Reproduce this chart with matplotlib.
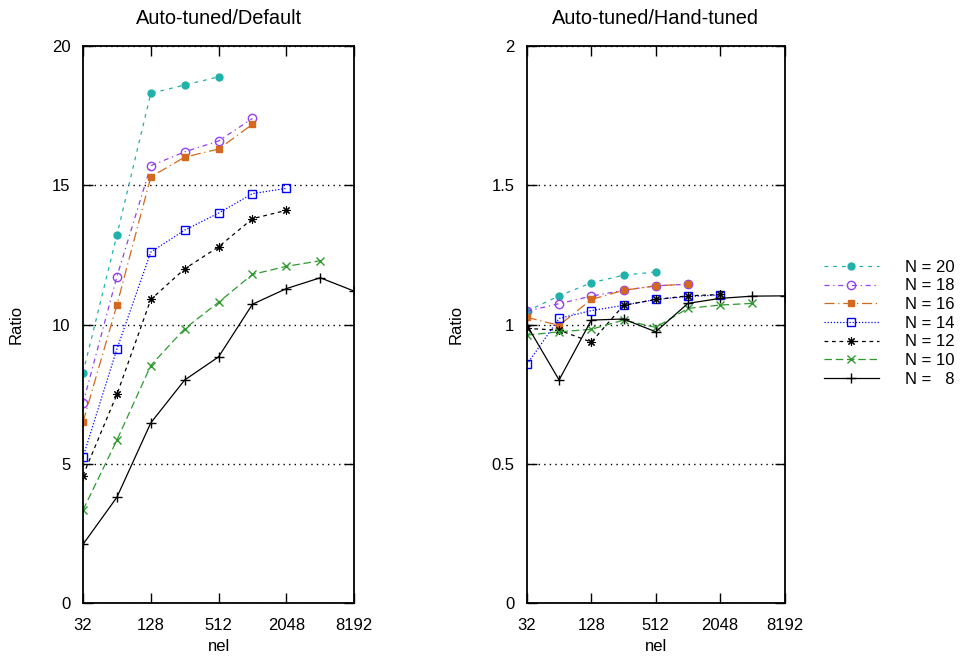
import matplotlib
matplotlib.use("Agg")
import matplotlib.pyplot as plt
import numpy as np

plt.rcParams['font.family'] = ['Liberation Sans', 'DejaVu Sans']
plt.rcParams['font.size'] = 12

nel = [32, 64, 128, 256, 512, 1024, 2048, 4096, 8192]
xticks = [32, 128, 512, 2048, 8192]

labels = ["N = 20", "N = 18", "N = 16", "N = 14", "N = 12", "N = 10", "N =   8"]

# Auto-tuned / Default
default_20 = [8.27, 13.21, 18.30, 18.60, 18.89]
default_18 = [7.17, 11.72, 15.70, 16.20, 16.59, 17.40]
default_16 = [6.50, 10.70, 15.30, 16.01, 16.30, 17.19]
default_14 = [5.24, 9.12, 12.60, 13.39, 14.00, 14.70, 14.89]
default_12 = [4.58, 7.49, 10.90, 12.00, 12.79, 13.80, 14.10]
default_10 = [3.34, 5.85, 8.53, 9.85, 10.80, 11.80, 12.09, 12.29]
default_8 = [2.11, 3.80, 6.47, 8.01, 8.84, 10.73, 11.29, 11.68, 11.20]

# Auto-tuned / Hand-tuned
hand_20 = [1.048, 1.103, 1.150, 1.177, 1.189]
hand_18 = [1.048, 1.075, 1.102, 1.123, 1.139, 1.145]
hand_16 = [1.026, 0.997, 1.090, 1.123, 1.139, 1.145]
hand_14 = [0.857, 1.022, 1.050, 1.069, 1.090, 1.101, 1.106]
hand_12 = [0.986, 0.980, 0.937, 1.069, 1.090, 1.103, 1.108]
hand_10 = [0.962, 0.974, 0.983, 1.016, 0.990, 1.058, 1.070, 1.076]
hand_8 = [0.998, 0.801, 1.016, 1.020, 0.974, 1.076, 1.094, 1.102, 1.103]

styles = [
    dict(color='#20b2aa', ls=(0, (3, 4)), marker='o', ms=5, mew=1.0),
    dict(color='#9440ed', ls=(0, (4, 3, 1, 3)), marker='o', ms=6, mfc='none', mew=1.0),
    dict(color='#d2691e', ls=(0, (8, 3, 1, 3)), marker='s', ms=5, mew=1.0),
    dict(color='#0000ff', ls=(0, (1, 1.5)), marker='s', ms=6, mfc='none', mew=1.0),
    dict(color='black', ls=(0, (3, 3)), marker=(8, 2, 0), ms=6, mew=0.8),
    dict(color='#2e9a2e', ls=(0, (6, 3)), marker='x', ms=5.5, mew=1.0),
    dict(color='black', ls='-', marker='+', ms=6.5, mew=1.0),
]

fig = plt.figure(figsize=(9.65, 6.57), dpi=100)
ax1 = fig.add_axes([0.086, 0.082, 0.281, 0.848])
ax2 = fig.add_axes([0.546, 0.082, 0.267, 0.848])

panels = [
    (ax1, [default_20, default_18, default_16, default_14, default_12, default_10, default_8],
     "Auto-tuned/Default", 20, [0, 5, 10, 15, 20], ["0", "5", "10", "15", "20"]),
    (ax2, [hand_20, hand_18, hand_16, hand_14, hand_12, hand_10, hand_8],
     "Auto-tuned/Hand-tuned", 2, [0, 0.5, 1, 1.5, 2], ["0", "0.5", "1", "1.5", "2"]),
]

for ax, series, title, ymax, yt, ytl in panels:
    for vals, st, lab in zip(series, styles, labels):
        ax.plot(nel[:len(vals)], vals, lw=0.9, label=lab, **st)
    ax.set_xscale('log', base=2)
    ax.set_xlim(32, 8192)
    ax.set_ylim(0, ymax)
    ax.set_xticks(xticks)
    ax.set_xticklabels([str(t) for t in xticks])
    ax.minorticks_off()
    ax.set_yticks(yt)
    ax.set_yticklabels(ytl)
    ax.tick_params(direction='in', top=True, right=True, length=7, width=1)
    ax.tick_params(axis='x', pad=11)
    ax.tick_params(axis='y', pad=9)
    ax.yaxis.grid(True, linestyle=(0, (1, 3)), color='black', lw=1)
    for sp in ax.spines.values():
        sp.set_linewidth(1.3)
    ax.set_title(title, pad=16)
    ax.set_xlabel("nel", labelpad=4)
    ax.set_ylabel("Ratio", labelpad=20)

handles, labs = ax2.get_legend_handles_labels()
fig.legend(handles, labs, loc='center left', bbox_to_anchor=(0.845, 0.508),
           frameon=False, handlelength=3.3, handletextpad=1.6, labelspacing=0.22,
           borderpad=0, fontsize=12)

fig.savefig("out.png", dpi=100)
